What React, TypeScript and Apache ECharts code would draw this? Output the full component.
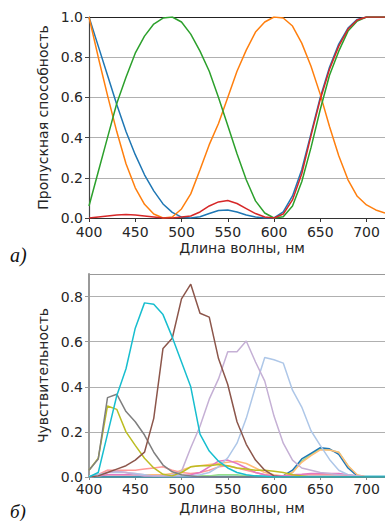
import React, { useEffect, useRef } from "react";
import * as echarts from "echarts";

const wavelengths = [400, 410, 420, 430, 440, 450, 460, 470, 480, 490, 500, 510, 520, 530, 540, 550, 560, 570, 580, 590, 600, 610, 620, 630, 640, 650, 660, 670, 680, 690, 700, 710, 720];

// top chart (a): transmission
const transBlue = [1.0, 0.855, 0.71, 0.565, 0.43, 0.315, 0.215, 0.135, 0.07, 0.028, 0.004, 0.0, 0.006, 0.022, 0.037, 0.04, 0.03, 0.015, 0.005, 0.0, 0.0, 0.03, 0.11, 0.24, 0.42, 0.6, 0.75, 0.865, 0.945, 0.988, 1.0, 1.0, 1.0];
const transOrange = [1.0, 0.8, 0.61, 0.43, 0.27, 0.15, 0.068, 0.02, 0.0, 0.005, 0.045, 0.12, 0.24, 0.365, 0.47, 0.6, 0.73, 0.835, 0.925, 0.975, 1.0, 0.995, 0.955, 0.87, 0.755, 0.615, 0.455, 0.31, 0.19, 0.108, 0.065, 0.04, 0.025];
const transGreen = [0.06, 0.23, 0.4, 0.57, 0.7, 0.82, 0.905, 0.965, 0.995, 1.0, 0.975, 0.915, 0.83, 0.73, 0.6, 0.46, 0.32, 0.19, 0.085, 0.025, 0.0, 0.006, 0.06, 0.18, 0.35, 0.54, 0.71, 0.83, 0.93, 0.98, 1.0, 1.0, 1.0];
const transRed = [0.0, 0.005, 0.01, 0.015, 0.017, 0.015, 0.01, 0.005, 0.0, 0.0, 0.005, 0.01, 0.03, 0.06, 0.08, 0.087, 0.072, 0.047, 0.022, 0.005, 0.0, 0.02, 0.09, 0.22, 0.41, 0.59, 0.74, 0.855, 0.94, 0.985, 1.0, 1.0, 1.0];

// bottom chart (b): sensitivity
const sensCyan = [0.0, 0.02, 0.19, 0.36, 0.48, 0.66, 0.772, 0.766, 0.72, 0.62, 0.51, 0.4, 0.19, 0.115, 0.07, 0.04, 0.02, 0.01, 0.005, 0.003, 0.0, 0.0, 0.0, 0.0, 0.0, 0.0, 0.0, 0.0, 0.0, 0.0, 0.0, 0.0, 0.0];
const sensBrown = [0.0, 0.005, 0.02, 0.035, 0.05, 0.075, 0.11, 0.26, 0.57, 0.615, 0.79, 0.855, 0.726, 0.709, 0.525, 0.41, 0.245, 0.145, 0.075, 0.03, 0.005, 0.0, 0.0, 0.0, 0.0, 0.0, 0.0, 0.0, 0.0, 0.0, 0.0, 0.0, 0.0];
const sensGray = [0.03, 0.08, 0.352, 0.367, 0.29, 0.245, 0.186, 0.11, 0.053, 0.023, 0.01, 0.005, 0.0, 0.0, 0.0, 0.0, 0.0, 0.0, 0.0, 0.0, 0.0, 0.0, 0.0, 0.0, 0.0, 0.0, 0.0, 0.0, 0.0, 0.0, 0.0, 0.0, 0.0];
const sensOlive = [0.03, 0.083, 0.315, 0.3, 0.2, 0.14, 0.083, 0.04, 0.012, 0.005, 0.02, 0.045, 0.05, 0.05, 0.055, 0.05, 0.04, 0.035, 0.03, 0.03, 0.025, 0.02, 0.01, 0.005, 0.0, 0.0, 0.0, 0.0, 0.0, 0.0, 0.0, 0.0, 0.0];
const sensLavender = [0.0, 0.005, 0.02, 0.025, 0.02, 0.01, 0.005, 0.005, 0.005, 0.01, 0.025, 0.13, 0.225, 0.345, 0.435, 0.555, 0.555, 0.603, 0.51, 0.425, 0.27, 0.15, 0.075, 0.04, 0.03, 0.02, 0.015, 0.01, 0.01, 0.005, 0.0, 0.0, 0.0];
const sensLightBlue = [0.0, 0.01, 0.02, 0.02, 0.02, 0.015, 0.01, 0.005, 0.005, 0.005, 0.005, 0.005, 0.01, 0.02, 0.045, 0.085, 0.15, 0.26, 0.4, 0.53, 0.52, 0.505, 0.385, 0.31, 0.205, 0.14, 0.078, 0.03, 0.01, 0.005, 0.0, 0.0, 0.0];
const sensSalmon = [0.0, 0.01, 0.03, 0.03, 0.03, 0.03, 0.035, 0.04, 0.045, 0.03, 0.02, 0.015, 0.02, 0.03, 0.045, 0.05, 0.04, 0.03, 0.02, 0.01, 0.005, 0.005, 0.005, 0.01, 0.01, 0.01, 0.01, 0.01, 0.005, 0.0, 0.0, 0.0, 0.0];
const sensLightOrange = [0.0, 0.005, 0.01, 0.01, 0.01, 0.01, 0.01, 0.01, 0.01, 0.015, 0.03, 0.045, 0.05, 0.055, 0.06, 0.065, 0.07, 0.06, 0.04, 0.02, 0.01, 0.005, 0.02, 0.065, 0.095, 0.12, 0.12, 0.11, 0.05, 0.01, 0.0, 0.0, 0.0];
const sensLightGreen = [0.0, 0.0, 0.0, 0.0, 0.0, 0.0, 0.0, 0.0, 0.0, 0.0, 0.0, 0.005, 0.005, 0.005, 0.01, 0.01, 0.01, 0.005, 0.005, 0.0, 0.0, 0.005, 0.02, 0.07, 0.1, 0.125, 0.12, 0.11, 0.05, 0.005, 0.0, 0.0, 0.0];
const sensBlue = [0.0, 0.0, 0.0, 0.0, 0.0, 0.0, 0.0, 0.0, 0.0, 0.0, 0.0, 0.0, 0.0, 0.0, 0.0, 0.0, 0.0, 0.0, 0.0, 0.0, 0.0, 0.005, 0.03, 0.08, 0.105, 0.13, 0.125, 0.1, 0.04, 0.005, 0.0, 0.0, 0.0];
const sensPink = [0.0, 0.005, 0.01, 0.01, 0.01, 0.01, 0.005, 0.005, 0.005, 0.005, 0.005, 0.01, 0.02, 0.045, 0.07, 0.075, 0.06, 0.04, 0.02, 0.01, 0.005, 0.005, 0.01, 0.012, 0.015, 0.015, 0.015, 0.015, 0.01, 0.005, 0.0, 0.0, 0.0];
const sensLightPink = [0.0, 0.01, 0.03, 0.025, 0.02, 0.015, 0.01, 0.005, 0.0, 0.0, 0.0, 0.0, 0.0, 0.0, 0.0, 0.0, 0.0, 0.0, 0.0, 0.0, 0.0, 0.0, 0.0, 0.0, 0.0, 0.0, 0.0, 0.0, 0.0, 0.0, 0.0, 0.0, 0.0];
const sensLightCyan = [0.005, 0.01, 0.01, 0.01, 0.01, 0.01, 0.01, 0.005, 0.005, 0.005, 0.005, 0.005, 0.005, 0.005, 0.005, 0.005, 0.005, 0.005, 0.005, 0.005, 0.005, 0.005, 0.005, 0.005, 0.005, 0.005, 0.005, 0.005, 0.005, 0.005, 0.005, 0.005, 0.005];

const xTickLabels = ["400", "450", "500", "550", "600", "650", "700"];

const FONT = "DejaVu Sans";
const TEXT = "#262626";

function pairs(vals: number[]) {
  return wavelengths.map((w, i) => [w, vals[i]]);
}

export default function App() {
  const ref = useRef<HTMLDivElement>(null);
  useEffect(() => {
    if (!ref.current) return;
    const chart = echarts.init(ref.current, undefined, { renderer: "svg" });

    const xBase = (grid: number, labelMargin: number, lineColor: string, tickLen: number, nameGap: number) => ({
      gridIndex: grid,
      type: "value",
      min: 400,
      max: 720,
      interval: 50,
      name: "Длина волны, нм",
      nameLocation: "middle",
      nameGap,
      nameTextStyle: { fontFamily: FONT, fontSize: 14, color: TEXT, padding: [0, 0, 0, 10] },
      axisLine: { show: true, onZero: false, lineStyle: { color: lineColor, width: 1.2 } },
      axisTick: { show: true, length: tickLen, lineStyle: { color: lineColor } },
      axisLabel: {
        fontFamily: FONT,
        fontSize: 14,
        color: TEXT,
        margin: labelMargin,
        showMaxLabel: false,
        formatter: (v: number) => (xTickLabels.includes(String(v)) ? String(v) : ""),
      },
      splitLine: { show: false },
    });
    const xTop = (grid: number, color: string) => ({
      gridIndex: grid,
      type: "value",
      position: "top",
      min: 400,
      max: 720,
      axisLine: { show: true, onZero: false, lineStyle: { color, width: 1.2 } },
      axisTick: { show: false },
      axisLabel: { show: false },
      splitLine: { show: false },
    });
    const yBase = (grid: number, max: number, name: string, gap: number, lineColor: string, lineWidth: number) => ({
      gridIndex: grid,
      type: "value",
      min: 0,
      max,
      interval: 0.2,
      name,
      nameLocation: "middle",
      nameGap: gap,
      nameTextStyle: { fontFamily: FONT, fontSize: 14, color: TEXT },
      axisLine: { show: true, lineStyle: { color: lineColor, width: lineWidth } },
      axisTick: { show: true, length: 4, lineStyle: { color: lineColor } },
      axisLabel: {
        fontFamily: FONT,
        fontSize: 14,
        color: TEXT,
        margin: 6,
        showMaxLabel: max === 1,
        formatter: (v: number) => (Math.abs(v / 0.2 - Math.round(v / 0.2)) < 1e-6 ? v.toFixed(1) : ""),
      },
      splitLine: { show: true, lineStyle: { color: "#b0b0b0", width: 1 } },
    });

    const line = (data: number[], color: string, xi: number, yi: number) => ({
      type: "line",
      xAxisIndex: xi,
      yAxisIndex: yi,
      data: pairs(data),
      showSymbol: false,
      symbol: "none",
      lineStyle: { color, width: 1.5 },
      itemStyle: { color },
      silent: true,
    });

    chart.setOption({
      animation: false,
      textStyle: { fontFamily: FONT },
      grid: [
        { left: 89, top: 17, right: 0, height: 201 },
        { left: 89, top: 274, right: 0, height: 203 },
      ],
      xAxis: [
        xBase(0, 7, "#333", 4, 23),
        xTop(0, "#222"),
        xBase(1, 5, "#888", 3, 24),
        xTop(1, "#999"),
      ],
      yAxis: [
        yBase(0, 1, "Пропускная способность", 31, "#444", 1.2),
        yBase(1, 0.9, "Чувствительность", 33, "#999", 2),
      ],
      series: [
        line(transBlue, "#1f77b4", 0, 0),
        line(transOrange, "#ff7f0e", 0, 0),
        line(transGreen, "#2ca02c", 0, 0),
        line(transRed, "#d62728", 0, 0),
        line(sensLightCyan, "#9edae5", 2, 1),
        line(sensLightPink, "#f7b6d2", 2, 1),
        line(sensLightGreen, "#98df8a", 2, 1),
        line(sensBlue, "#1f77b4", 2, 1),
        line(sensLightOrange, "#ffbb78", 2, 1),
        line(sensSalmon, "#ff9896", 2, 1),
        line(sensPink, "#e377c2", 2, 1),
        line(sensLightBlue, "#aec7e8", 2, 1),
        line(sensLavender, "#c5b0d5", 2, 1),
        line(sensOlive, "#bcbd22", 2, 1),
        line(sensGray, "#7f7f7f", 2, 1),
        line(sensBrown, "#8c564b", 2, 1),
        line(sensCyan, "#17becf", 2, 1),
      ],
      graphic: [
        {
          type: "text",
          left: 10,
          top: 245,
          style: { text: "а)", font: "italic 20px 'Liberation Serif'", fill: "#111" },
        },
        {
          type: "text",
          left: 10,
          top: 502,
          style: { text: "б)", font: "italic 19px 'Liberation Serif'", fill: "#111" },
        },
      ],
    });
    return () => chart.dispose();
  }, []);
  return (
    <div
      ref={ref}
      style={{ position: "fixed", left: 0, top: 0, width: 385, height: 521, background: "#fff" }}
    />
  );
}
